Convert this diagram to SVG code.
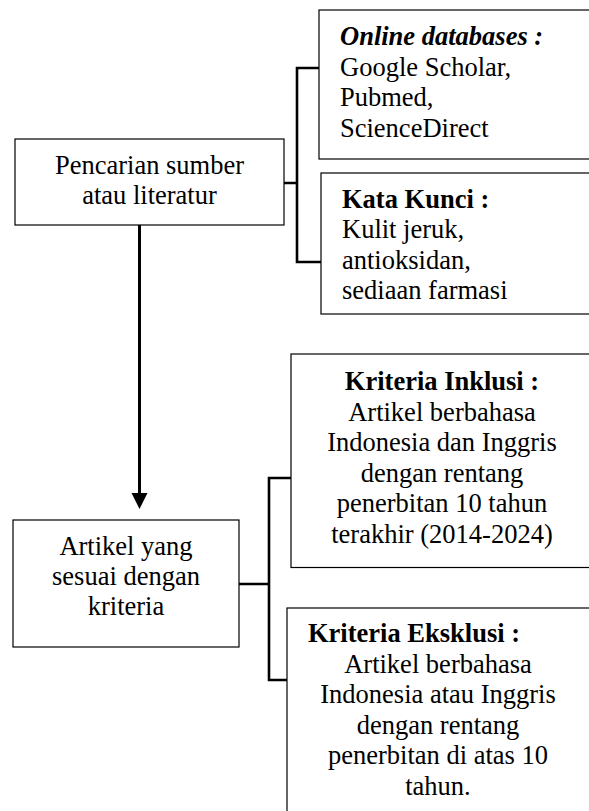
<svg xmlns="http://www.w3.org/2000/svg" width="589" height="811" viewBox="0 0 589 811">
<style>
.box{fill:#fff;stroke:#000;stroke-width:1.2}
.t{font-family:"Liberation Serif","Times New Roman",serif;font-size:26.5px;fill:#000}
.c{text-anchor:middle}
.b{font-weight:bold}
.bi{font-weight:bold;font-style:italic}
.conn{fill:none;stroke:#000;stroke-width:2.6;stroke-linejoin:miter}
</style>
<rect width="589" height="811" fill="#fff"/>
<g id="connectors">
<path class="conn" d="M284,183 H297 M319,68 H297 V262 H321"/>
<path class="conn" d="M239,584 H269 M291,478 H269 V680 H287"/>
<line x1="139.5" y1="225" x2="139.5" y2="495" stroke="#000" stroke-width="3"/>
<polygon points="131.5,493 147.5,493 139.5,509" fill="#000"/>
</g>
<g id="node-pencarian">
<rect class="box" x="15" y="139" width="269" height="86"/>
<text class="t c" x="149.5" y="174">Pencarian sumber</text>
<text class="t c" x="149.5" y="204">atau literatur</text>
</g>
<g id="node-online">
<rect class="box" x="319" y="10" width="290" height="149"/>
<text class="t bi" x="340" y="45">Online databases :</text>
<text class="t" x="340" y="75.5">Google Scholar,</text>
<text class="t" x="340" y="106">Pubmed,</text>
<text class="t" x="340" y="136.5">ScienceDirect</text>
</g>
<g id="node-katakunci">
<rect class="box" x="321" y="173" width="290" height="141"/>
<text class="t b" x="342" y="207.5">Kata Kunci :</text>
<text class="t" x="342" y="238">Kulit jeruk,</text>
<text class="t" x="342" y="268.5">antioksidan,</text>
<text class="t" x="342" y="299">sediaan farmasi</text>
</g>
<g id="node-artikel">
<rect class="box" x="13" y="520" width="226" height="127"/>
<text class="t c" x="126" y="555">Artikel yang</text>
<text class="t c" x="126" y="585">sesuai dengan</text>
<text class="t c" x="126" y="615">kriteria</text>
</g>
<g id="node-inklusi">
<rect class="box" x="291" y="354" width="320" height="213.5"/>
<text class="t c b" x="442" y="390">Kriteria Inklusi :</text>
<text class="t c" x="442" y="420.5">Artikel berbahasa</text>
<text class="t c" x="442" y="451">Indonesia dan Inggris</text>
<text class="t c" x="442" y="481.5">dengan rentang</text>
<text class="t c" x="442" y="512">penerbitan 10 tahun</text>
<text class="t c" x="442" y="542.5">terakhir (2014-2024)</text>
</g>
<g id="node-eksklusi">
<rect class="box" x="287" y="608" width="320" height="220"/>
<text class="t b" x="308" y="642">Kriteria Eksklusi :</text>
<text class="t c" x="438" y="672.5">Artikel berbahasa</text>
<text class="t c" x="438" y="703">Indonesia atau Inggris</text>
<text class="t c" x="438" y="733.5">dengan rentang</text>
<text class="t c" x="438" y="764">penerbitan di atas 10</text>
<text class="t c" x="438" y="794.5">tahun.</text>
</g>
</svg>
